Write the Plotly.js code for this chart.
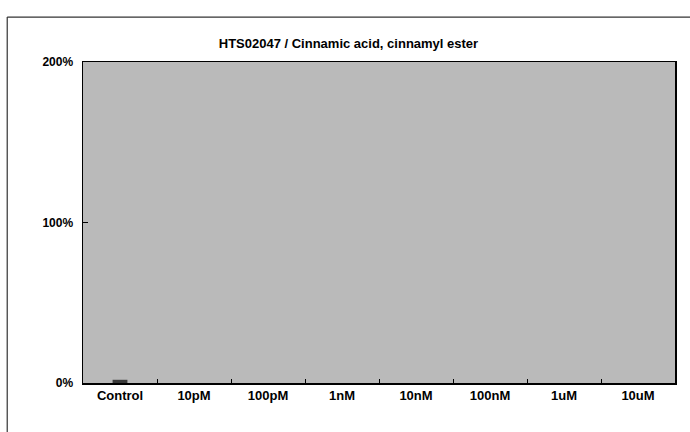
<!DOCTYPE html>
<html><head><meta charset="utf-8">
<script src="https://cdn.plot.ly/plotly-3.0.1.min.js"></script>
<style>html,body{margin:0;padding:0;background:#fff}#c{width:690px;height:432px}</style>
</head><body><div id="c"></div>
<script>
const categories = ["Control","10pM","100pM","1nM","10nM","100nM","1uM","10uM"];
const values = [2, 0, 0, 0, 0, 0, 0, 0];
const yTickVals = [0, 100, 200];
const yTickText = ["0%", "100%", "200%"];
const titleText = "HTS02047 / Cinnamic acid, cinnamyl ester";

const fam = "Liberation Sans, Arial, sans-serif";
const trace = {
  type: "bar", x: categories, y: values,
  marker: {color: "#3a3a3a", line: {width: 0}},
  width: 0.2, hoverinfo: "none"
};
const layout = {
  width: 690, height: 432,
  margin: {l: 83, r: 15, t: 62, b: 49},
  paper_bgcolor: "#fff", plot_bgcolor: "#bababa",
  showlegend: false,
  title: {text: "<b>" + titleText + "</b>", font: {family: fam, size: 13, color: "#000"},
          x: 0.505, xref: "container", xanchor: "center", y: 0.9, yref: "container", yanchor: "middle"},
  xaxis: {type: "category", showline: true, linecolor: "#000", linewidth: 1.5, mirror: true,
          ticks: "inside", tickson: "boundaries", ticklen: 4, tickcolor: "#000",
          tickfont: {family: fam, size: 13, color: "#000", weight: "bold"},
          showgrid: false, zeroline: false, fixedrange: true},
  yaxis: {range: [0, 200], tickvals: yTickVals, ticktext: yTickText,
          showline: true, linecolor: "#000", linewidth: 1.5, mirror: true,
          ticks: "inside", ticklen: 5, tickcolor: "#000", ticklabelstandoff: 6,
          tickfont: {family: fam, size: 12, color: "#000", weight: "bold"},
          showgrid: false, zeroline: false, fixedrange: true},
  shapes: [
    {type: "line", xref: "paper", yref: "paper", x0: -0.128, x1: 1.03, y0: 1.14, y1: 1.14,
     line: {color: "#333", width: 1.2}},
    {type: "line", xref: "paper", yref: "paper", x0: -0.128, x1: -0.128, y0: 1.14, y1: -0.2,
     line: {color: "#333", width: 1.2}}
  ]
};
Plotly.newPlot("c", [trace], layout, {staticPlot: true, displayModeBar: false});
</script></body></html>
